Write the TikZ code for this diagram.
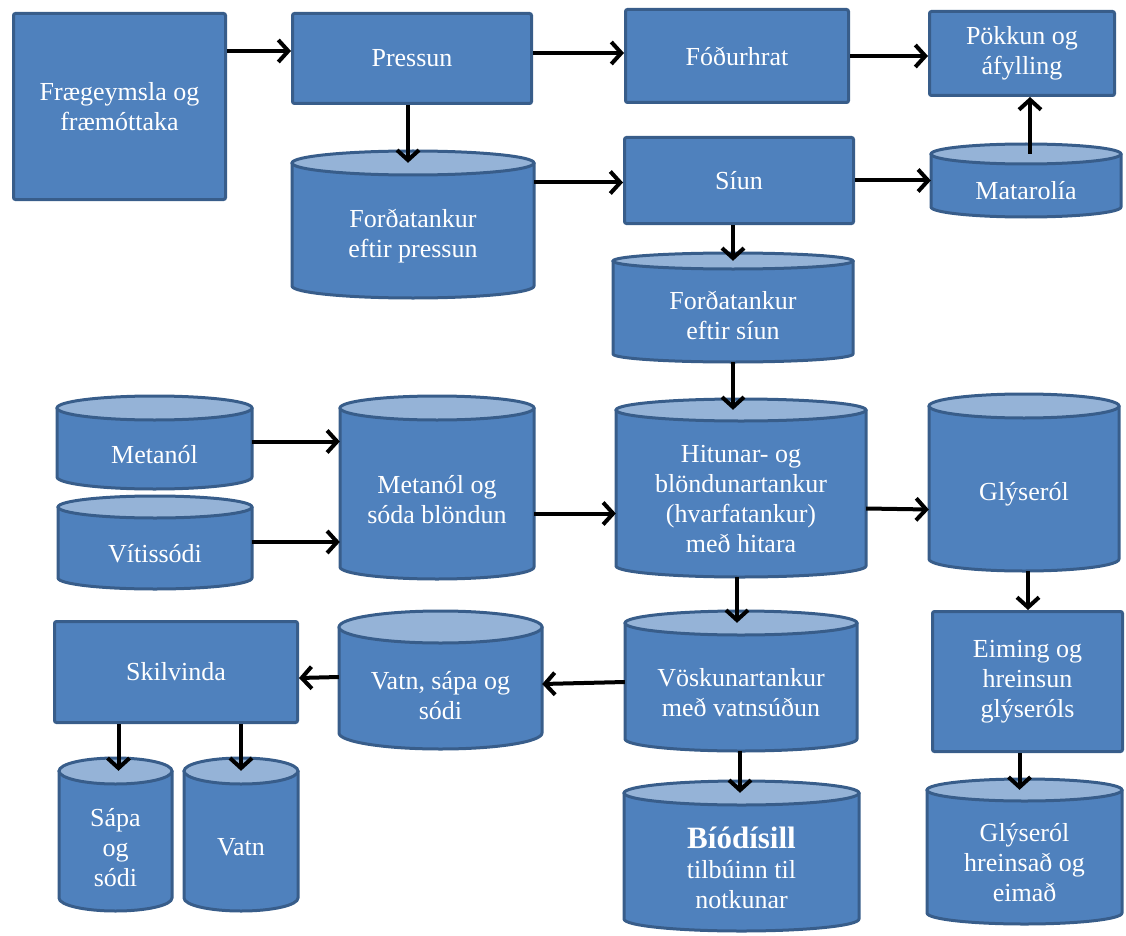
\documentclass[tikz,border=0pt]{standalone}
\usepackage{fontspec}
\setmainfont{LiberationSerif}[Extension=.ttf, UprightFont=*-Regular, BoldFont=*-Bold, ItalicFont=*-Italic, BoldItalicFont=*-BoldItalic]
\usetikzlibrary{arrows.meta,calc}
\definecolor{boxfill}{HTML}{4F81BD}
\definecolor{boxline}{HTML}{385D8A}
\definecolor{topfill}{HTML}{95B3D7}
\tikzset{
  procbox/.style={draw=boxline, fill=boxfill, line width=3pt, rounded corners=2pt,
    text=white, align=center, font=\rmfamily\fontsize{26}{30}\selectfont, inner sep=0pt},
  tankbody/.style={draw=boxline, fill=boxfill, line width=3pt, line join=round},
  tanktop/.style={draw=boxline, fill=topfill, line width=3pt},
  tanklabel/.style={text=white, align=center, font=\rmfamily\fontsize{26}{30}\selectfont, inner sep=0pt},
  tankarea/.style={draw=none, inner sep=0pt},
  flow/.style={line width=4pt, -{Straight Barb[length=10pt,width=22pt]}}
}
% name, x1, y1, x2, y2, ry, text  (pixel coordinates, y downward)
\newcommand\tank[7]{%
  \pgfmathsetmacro\tcx{(#2+#4)/2}%
  \pgfmathsetmacro\trx{(#4-#2)/2}%
  \draw[tankbody] (#2,{-(#3+#6)}) -- (#2,{-(#5-#6)})
     arc[start angle=180, end angle=360, x radius=\trx pt, y radius=#6 pt]
     -- (#4,{-(#3+#6)}) -- cycle;
  \draw[tanktop] (\tcx,{-(#3+#6)}) ellipse[x radius=\trx pt, y radius=#6 pt];
  \node[tankarea, minimum width={#4-#2}, minimum height={#5-#3-#6}] (#1) at (\tcx,{-(#3+#6+#5)/2}) {};
  \node[tanklabel] (#1-t) at (\tcx,{-(#3+2*#6+#5)/2}) {#7};
}
\begin{document}
\begin{tikzpicture}[x=1pt,y=1pt]
\useasboundingbox (0,0) rectangle (1126,-936);
% process boxes
\node[procbox, minimum width=212, minimum height=186] (fr) at (119.5,-106.5) {Frægeymsla og\\fræmóttaka};
\node[procbox, minimum width=239, minimum height=90] (press) at (412,-58.5) {Pressun};
\node[procbox, minimum width=223, minimum height=93] (fod) at (737,-56) {Fóðurhrat};
\node[procbox, minimum width=185, minimum height=84] (pok) at (1022,-53.5) {Pökkun og\\áfylling};
\node[procbox, minimum width=229, minimum height=86] (siun) at (739,-180.5) {Síun};
\node[procbox, minimum width=243, minimum height=101] (skil) at (176,-672) {Skilvinda};
\node[procbox, minimum width=190, minimum height=140] (eim) at (1027.5,-681.5) {Eiming og\\hreinsun\\glýseróls};
% tanks
\tank{fp}{292}{151}{534}{298}{12}{Forðatankur\\eftir pressun}
\tank{fs}{613}{253}{853}{362}{8}{Forðatankur\\eftir síun}
\tank{mat}{931}{144}{1121}{217}{10}{Matarolía}
\tank{met}{57}{396}{252}{489}{12}{Metanól}
\tank{vit}{58}{496}{252}{589}{11}{Vítissódi}
\tank{mso}{340}{396}{534}{579}{12}{Metanól og\\sóda blöndun}
\tank{hit}{616}{399}{866}{577}{11}{Hitunar- og\\blöndunartankur\\(hvarfatankur)\\með hitara}
\tank{gly}{929}{394}{1119}{571}{12}{Glýseról}
\tank{vss}{339}{611}{542}{749}{16}{Vatn, sápa og\\sódi}
\tank{vos}{625}{611}{857}{751}{12}{Vöskunartankur\\með vatnsúðun}
\tank{bio}{624}{781}{859}{931}{12}{{\bfseries\fontsize{31}{33}\selectfont Bíódísill}\\tilbúinn til\\notkunar}
\tank{sap}{59}{758}{172}{911}{13}{Sápa\\og\\sódi}
\tank{vatn}{184}{758}{298}{911}{13}{Vatn}
\tank{ghe}{927}{779}{1122}{924}{11}{Glýseról\\hreinsað og\\eimað}
% connectors
\draw[flow] ($(fr.east|-press.west)+(0,7.5)$) -- ($(press.west)+(0,7.5)$);
\draw[flow] ($(press.east|-fod.west)+(0,3)$) -- ($(fod.west)+(0,3)$);
\draw[flow] (fod.east) -- (fod.east -| pok.west);
\draw[flow] ($(press.south)+(-4,0)$) -- ($(press.south|-fp.north)+(-4,0)$);
\draw[flow] ($(fp.east|-siun.west)+(0,-2)$) -- ($(siun.west)+(0,-2)$);
\draw[flow] (siun.east) -- (siun.east -| mat.west);
\draw[flow] ($(mat.north)+(4,0)$) -- ($(mat.north|-pok.south)+(4,0)$);
\draw[flow] (siun.south -| fs.north) -- (fs.north);
\draw[flow] (fs.south) -- (fs.south |- hit.north);
\draw[flow] ($(met.east)+(0,7)$) -- ($(met.east -| mso.west)+(0,7)$);
\draw[flow] ($(vit.east)+(0,6)$) -- ($(vit.east -| mso.west)+(0,6)$);
\draw[flow] ($(mso.east)+(0,-20)$) -- ($(mso.east -| hit.west)+(0,-20)$);
\draw[flow] ($(hit.east)+(0,-15)$) -- ($(hit.east -| gly.west)+(0,-16)$);
\draw[flow] ($(hit.south)+(-4,0)$) -- ($(hit.south|-vos.north)+(-4,0)$);
\draw[flow] ($(gly.south)+(4,0)$) -- ($(gly.south|-eim.north)+(4,0)$);
\draw[flow] ($(vos.west)+(0,5)$) -- ($(vos.west -| vss.east)+(0,3)$);
\draw[flow] ($(vss.west|-skil.east)+(0,-5)$) -- ($(skil.east)+(0,-6)$);
\draw[flow] ($(skil.south -| sap.north)+(3,0)$) -- ($(sap.north)+(3,0)$);
\draw[flow] (skil.south -| vatn.north) -- (vatn.north);
\draw[flow] ($(vos.south)+(-1,0)$) -- ($(vos.south|-bio.north)+(-1,0)$);
\draw[flow] ($(eim.south -| ghe.north)+(-5,0)$) -- ($(ghe.north)+(-5,0)$);
\end{tikzpicture}
\end{document}
